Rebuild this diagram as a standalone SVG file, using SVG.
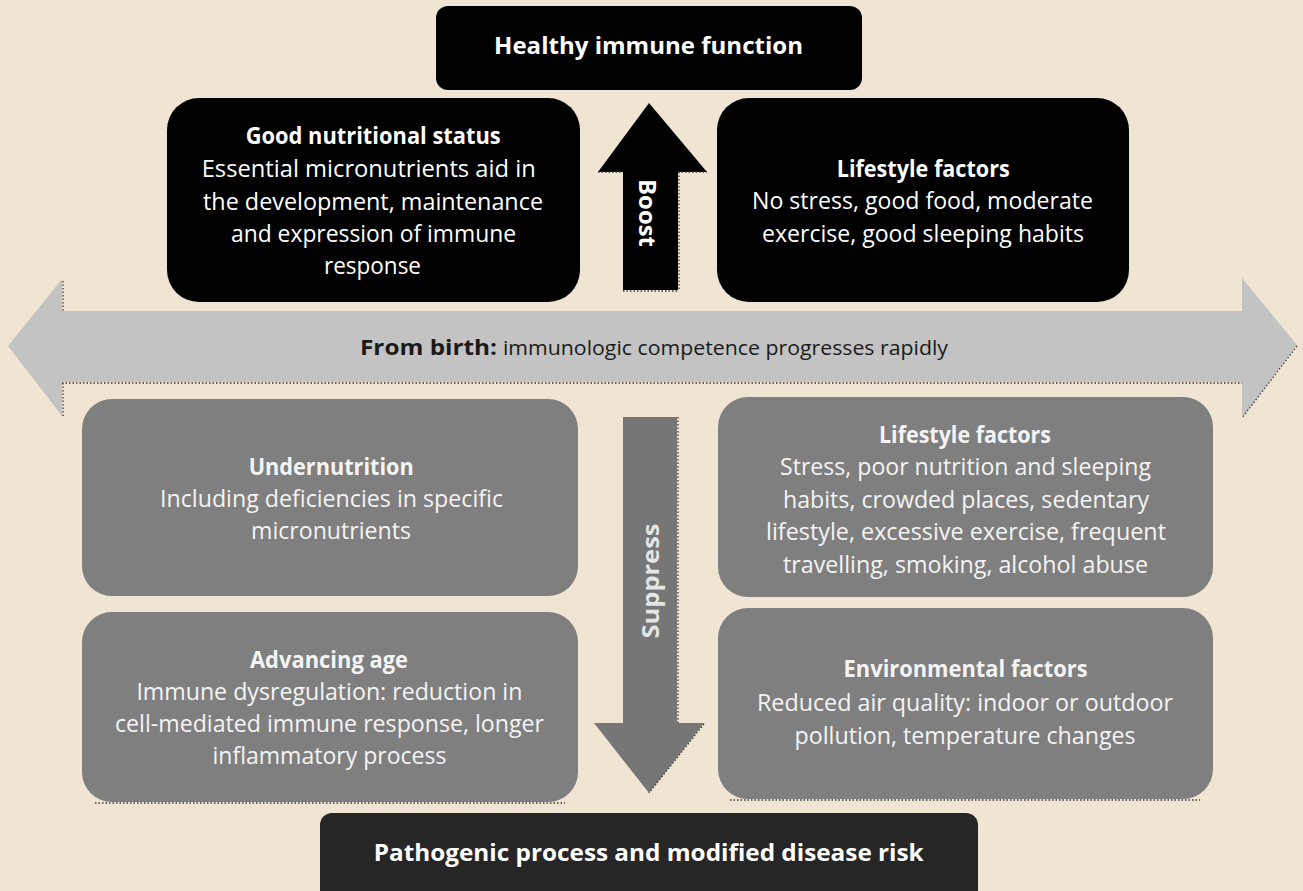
<svg xmlns="http://www.w3.org/2000/svg" width="1303" height="891" viewBox="0 0 1303 891">
  <style>
    .t { font-family: "Open Sans", "Noto Sans", "Liberation Sans", sans-serif; fill: #FFFFFF; font-size: 23px; }
    .b { font-weight: 700; }
    .g { fill: #F4F4F4; }
    .dots { fill: none; stroke: #3A3A3A; stroke-width: 1.3; stroke-dasharray: 1.5 2; }
    .blk { fill: #000000; }
    .gry { fill: #7F7F7F; }
  </style>
  <rect x="0" y="0" width="1303" height="891" fill="#F0E5D2"/>

  <g id="connectors">
    <g id="birth-arrow">
      <polygon points="8,346 62,279 62,311 1242,311 1242,278 1297,345 1242,418 1242,382 62,382 62,416" fill="#C3C3C3"/>
      <path class="dots" d="M62,383 H1242 M63,281 V311 M63,383 V416 M1297,346 L1242,418"/>
      <text x="360" y="355" font-family="'Open Sans','Noto Sans',sans-serif" font-weight="700" font-size="22" fill="#1A1A1A" textLength="137" lengthAdjust="spacingAndGlyphs">From birth:</text>
      <text x="503" y="355" font-family="'Open Sans','Noto Sans',sans-serif" font-size="19.5" fill="#1A1A1A" textLength="445" lengthAdjust="spacingAndGlyphs">immunologic competence progresses rapidly</text>
    </g>
    <g id="boost-arrow">
      <polygon points="649,103 707,172 678,172 678,290 623,290 623,172 598,172" fill="#000000"/>
      <path class="dots" d="M679,172 V290 M623,291 H679 M598,172 H623 M678,172 H707"/>
      <text class="t b" transform="translate(648,213) rotate(90)" text-anchor="middle" dominant-baseline="central" font-size="21" textLength="68" lengthAdjust="spacingAndGlyphs">Boost</text>
    </g>
    <g id="suppress-arrow">
      <polygon points="623,417 677,417 677,723 704,723 649,793 594,723 623,723" fill="#767676"/>
      <path class="dots" d="M678,417 V723 M704,724 L649,793"/>
      <text class="t b" transform="translate(650,581) rotate(-90)" text-anchor="middle" dominant-baseline="central" font-size="22" style="fill:#E4E4E4" textLength="115" lengthAdjust="spacingAndGlyphs">Suppress</text>
    </g>
  </g>

  <g id="healthy">
    <rect class="blk" x="436" y="6" width="426" height="84" rx="12"/>
    <text class="t b" x="494" y="54" textLength="309" lengthAdjust="spacingAndGlyphs">Healthy immune function</text>
  </g>

  <g id="good-nutrition">
    <rect class="blk" x="167" y="98" width="413" height="204" rx="32"/>
    <text class="t b" x="245.7" y="144" textLength="255" lengthAdjust="spacingAndGlyphs">Good nutritional status</text>
    <text class="t" x="201.7" y="177" textLength="334" lengthAdjust="spacingAndGlyphs">Essential micronutrients aid in</text>
    <text class="t" x="203" y="210" textLength="340" lengthAdjust="spacingAndGlyphs">the development, maintenance</text>
    <text class="t" x="231" y="242" textLength="285" lengthAdjust="spacingAndGlyphs">and expression of immune</text>
    <text class="t" x="324" y="274" textLength="97" lengthAdjust="spacingAndGlyphs">response</text>
  </g>

  <g id="lifestyle-good">
    <rect class="blk" x="717" y="98" width="412" height="204" rx="32"/>
    <text class="t b" x="836.7" y="177" textLength="173" lengthAdjust="spacingAndGlyphs">Lifestyle factors</text>
    <text class="t" x="752" y="209" textLength="341" lengthAdjust="spacingAndGlyphs">No stress, good food, moderate</text>
    <text class="t" x="762" y="242" textLength="322" lengthAdjust="spacingAndGlyphs">exercise, good sleeping habits</text>
  </g>

  <g id="undernutrition">
    <rect class="gry" x="82" y="399" width="496" height="197" rx="30"/>
    <text class="t g b" x="248.7" y="475" textLength="165" lengthAdjust="spacingAndGlyphs">Undernutrition</text>
    <text class="t g" x="160" y="507" textLength="343" lengthAdjust="spacingAndGlyphs">Including deficiencies in specific</text>
    <text class="t g" x="251" y="539" textLength="160" lengthAdjust="spacingAndGlyphs">micronutrients</text>
  </g>

  <g id="advancing-age">
    <rect class="gry" x="82" y="612" width="496" height="190" rx="30"/>
    <path class="dots" d="M95,803 H565"/>
    <text class="t g b" x="250" y="668" textLength="158" lengthAdjust="spacingAndGlyphs">Advancing age</text>
    <text class="t g" x="136.4" y="700" textLength="386" lengthAdjust="spacingAndGlyphs">Immune dysregulation: reduction in</text>
    <text class="t g" x="115" y="732" textLength="429" lengthAdjust="spacingAndGlyphs">cell-mediated immune response, longer</text>
    <text class="t g" x="212.5" y="764" textLength="234" lengthAdjust="spacingAndGlyphs">inflammatory process</text>
  </g>

  <g id="lifestyle-bad">
    <rect class="gry" x="718" y="397" width="495" height="200" rx="30"/>
    <text class="t g b" x="879" y="443" textLength="172" lengthAdjust="spacingAndGlyphs">Lifestyle factors</text>
    <text class="t g" x="780" y="475" textLength="371" lengthAdjust="spacingAndGlyphs">Stress, poor nutrition and sleeping</text>
    <text class="t g" x="783" y="508" textLength="366" lengthAdjust="spacingAndGlyphs">habits, crowded places, sedentary</text>
    <text class="t g" x="766" y="540" textLength="400" lengthAdjust="spacingAndGlyphs">lifestyle, excessive exercise, frequent</text>
    <text class="t g" x="783" y="573" textLength="365" lengthAdjust="spacingAndGlyphs">travelling, smoking, alcohol abuse</text>
  </g>

  <g id="environmental">
    <rect class="gry" x="718" y="608" width="495" height="191" rx="30"/>
    <path class="dots" d="M730,800 H1200"/>
    <text class="t g b" x="843.6" y="677" textLength="244" lengthAdjust="spacingAndGlyphs">Environmental factors</text>
    <text class="t g" x="757" y="711" textLength="416" lengthAdjust="spacingAndGlyphs">Reduced air quality: indoor or outdoor</text>
    <text class="t g" x="794.6" y="744" textLength="341" lengthAdjust="spacingAndGlyphs">pollution, temperature changes</text>
  </g>

  <g id="pathogenic">
    <rect x="320" y="813" width="658" height="100" rx="12" fill="#262626"/>
    <text class="t b" x="373.7" y="861" style="font-size:24px" textLength="550" lengthAdjust="spacingAndGlyphs">Pathogenic process and modified disease risk</text>
  </g>
</svg>
